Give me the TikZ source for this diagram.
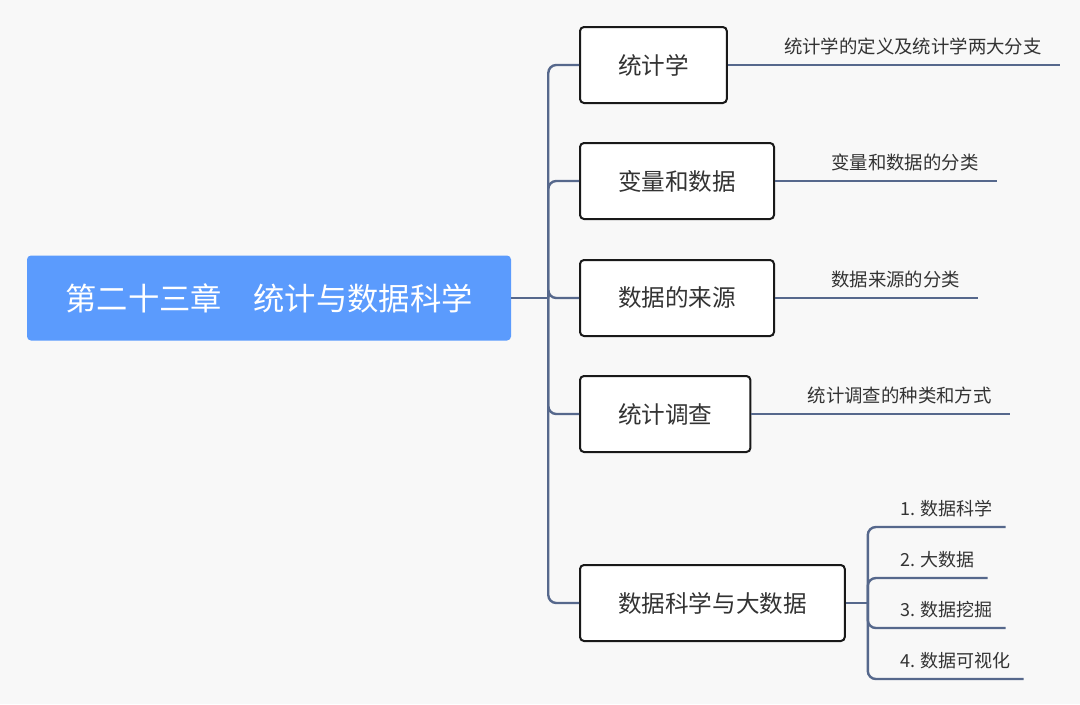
\documentclass[tikz,border=0pt]{standalone}
\usepackage{fontspec}
\setmainfont{Noto Sans CJK SC}
\usetikzlibrary{positioning}
\definecolor{rootblue}{RGB}{91,155,253}
\definecolor{linkgray}{RGB}{86,104,140}
\definecolor{textgray}{RGB}{51,51,51}
\definecolor{bggray}{RGB}{248,248,248}
\tikzset{
    rootnode/.style={
        rectangle,
        rounded corners=3pt,
        fill=rootblue, % 中心主题为蓝色
        text=white,
        minimum width=363pt,
        minimum height=63.75pt,
        font=\fontsize{23.5}{28}\selectfont
    },
    topicnode/.style={
        rectangle,
        rounded corners=3pt,
        draw=black!90,
        fill=white,
        line width=1.5pt, % 边框加粗
        minimum height=57pt,
        inner xsep=28.5pt,
        anchor=west,
        text=textgray,
        font=\fontsize{17.7}{21}\selectfont
    },
    leafnode/.style={
        anchor=south west,
        inner xsep=13.5pt,
        inner ysep=7pt,
        text=textgray,
        font=\fontsize{13.8}{16}\selectfont
    },
    subleafnode/.style={
        leafnode,
        inner xsep=9.75pt,
        font=\fontsize{13.5}{16}\selectfont
    },
    link/.style={
        draw=linkgray,
        line width=1.8pt,
        rounded corners=6pt
    }
}

\begin{document}
\begin{tikzpicture}[x=0.75pt, y=-0.75pt]
            \useasboundingbox (0,0) rectangle (1080,704);
            \fill[bggray] (0,0) rectangle (1080,704);
            % 中心主题
            \node[rootnode] (root) at (269,298) {第二十三章\hspace{1em}统计与数据科学};
            % 分支主题
            \node[topicnode] (t1) at (579,65) {统计学};
            \node[topicnode] (t2) at (579,181) {变量和数据};
            \node[topicnode] (t3) at (579,298) {数据的来源};
            \node[topicnode] (t4) at (579,414) {统计调查};
            \node[topicnode] (t5) at (579,603) {数据科学与大数据};
            % 子主题
            \node[leafnode, above right=0pt and 28.5pt of t1.east] (l1) {统计学的定义及统计学两大分支};
            \node[leafnode, above right=0pt and 28.5pt of t2.east] (l2) {变量和数据的分类};
            \node[leafnode, above right=0pt and 28.5pt of t3.east] (l3) {数据来源的分类};
            \node[leafnode, above right=0pt and 28.5pt of t4.east] (l4) {统计调查的种类和方式};
            % 连线
            \draw[link] (root.east) -- ++(37,0) coordinate (hub);
            \foreach \t in {t1,t2,t3,t4,t5}
                \draw[link] (hub) |- (\t.west);
            \foreach \i in {1,...,4}
                \draw[link] (t\i.east) -- (l\i.south east);
            \draw[link] (t5.east) -- ++(22,0) coordinate (hub2);
            \node[subleafnode] (s1) at ([xshift=14.25pt, yshift=57pt]hub2) {1. 数据科学};
            \node[subleafnode] (s2) at ([xshift=14.25pt, yshift=18.75pt]hub2) {2. 大数据};
            \node[subleafnode] (s3) at ([xshift=14.25pt, yshift=-18.75pt]hub2) {3. 数据挖掘};
            \node[subleafnode] (s4) at ([xshift=14.25pt, yshift=-57pt]hub2) {4. 数据可视化};
            \foreach \s in {s1,s2,s3,s4}
                \draw[link] (hub2) |- (\s.south east);
\end{tikzpicture}
\end{document}
